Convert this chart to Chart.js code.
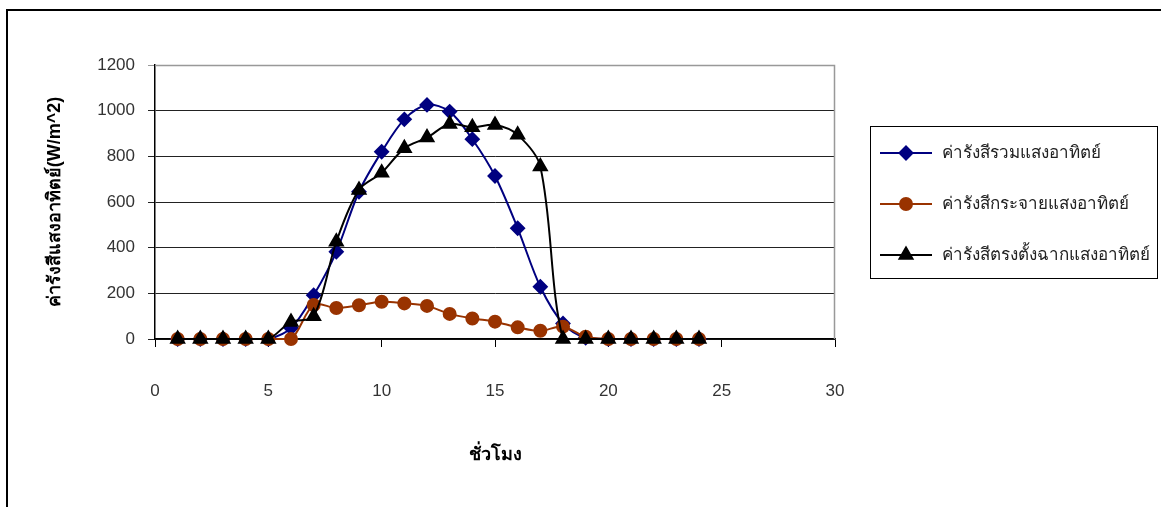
<!DOCTYPE html>
<html>
<head>
<meta charset="utf-8">
<script src="https://cdn.jsdelivr.net/npm/chart.js@4/dist/chart.umd.min.js"></script>
<style>
  html, body { margin: 0; padding: 0; background: #fff; }
  #wrap { position: relative; width: 1161px; height: 507px; }
</style>
</head>
<body>
<div id="wrap"><canvas id="chart" width="1161" height="507"></canvas></div>
<script>
// hours of the day
const hours = [1, 2, 3, 4, 5, 6, 7, 8, 9, 10, 11, 12, 13, 14, 15, 16, 17, 18, 19, 20, 21, 22, 23, 24];
// global (total) radiation W/m^2
const totalRad = [0, 0, 0, 0, 0, 48, 192, 382, 645, 820, 962, 1025, 996, 875, 714, 485, 229, 68, 5, 0, 0, 0, 0, 0];
// diffuse radiation
const diffuseRad = [0, 0, 0, 0, 0, 0, 149, 136, 148, 163, 156, 145, 110, 90, 76, 51, 36, 54, 10, 0, 0, 0, 0, 0];
// direct normal radiation
const directRad = [0, 0, 0, 0, 0, 75, 100, 426, 653, 728, 835, 882, 942, 927, 937, 894, 755, 0, 0, 0, 0, 0, 0, 0];

const seriesLabels = ['ค่ารังสีรวมแสงอาทิตย์', 'ค่ารังสีกระจายแสงอาทิตย์', 'ค่ารังสีตรงตั้งฉากแสงอาทิตย์'];
const yTitle = 'ค่ารังสีแสงอาทิตย์(W/m^2)';
const xTitle = 'ชั่วโมง';

const toPoints = (vals) => hours.map((h, i) => ({ x: h, y: vals[i] }));

Chart.defaults.font.family = "'Liberation Sans', Arial, sans-serif";
Chart.defaults.color = '#333';

// frame around the whole picture + plot border + legend box
const decor = {
  id: 'decor',
  beforeDraw(chart) {
    const { ctx } = chart;
    ctx.save();
    ctx.fillStyle = '#fff';
    ctx.fillRect(0, 0, chart.width, chart.height);
    ctx.strokeStyle = '#000';
    ctx.lineWidth = 2;
    ctx.beginPath();
    ctx.moveTo(7, chart.height + 2);
    ctx.lineTo(7, 10);
    ctx.lineTo(chart.width + 2, 10);
    ctx.stroke();
    ctx.restore();
  },
  beforeDatasetsDraw(chart) {
    const { ctx, chartArea: a } = chart;
    ctx.save();
    ctx.strokeStyle = '#999';
    ctx.lineWidth = 1.5;
    ctx.beginPath();
    ctx.moveTo(a.left, a.top + 0.5);
    ctx.lineTo(a.right - 0.5, a.top + 0.5);
    ctx.lineTo(a.right - 0.5, a.bottom);
    ctx.stroke();
    ctx.restore();
  },
  afterDraw(chart) {
    const { ctx } = chart;
    ctx.save();
    ctx.strokeStyle = '#000';
    ctx.lineWidth = 1;
    ctx.strokeRect(870.5, 126.5, 287, 152);
    const rows = [153, 204, 255];
    chart.data.datasets.forEach((ds, i) => {
      const y = rows[i];
      ctx.strokeStyle = ds.borderColor;
      ctx.lineWidth = 2;
      ctx.beginPath();
      ctx.moveTo(880, y);
      ctx.lineTo(932, y);
      ctx.stroke();
      ctx.fillStyle = ds.pointBackgroundColor;
      ctx.strokeStyle = ds.pointBorderColor;
      Chart.helpers.drawPoint(ctx, {
        pointStyle: ds.pointStyle, radius: ds.pointRadius, rotation: 0, borderWidth: 1
      }, 906, y);
      ctx.fillStyle = '#222';
      ctx.font = "17px 'Liberation Sans', Arial, sans-serif";
      ctx.textBaseline = 'middle';
      ctx.fillText(ds.label, 942, y);
    });
    ctx.restore();
  }
};

new Chart(document.getElementById('chart'), {
  type: 'line',
  data: {
    datasets: [
      {
        label: seriesLabels[0],
        data: toPoints(totalRad),
        borderColor: '#000080',
        borderWidth: 2,
        pointStyle: 'rectRot',
        pointRadius: 6.5,
        pointBackgroundColor: '#000080',
        pointBorderColor: '#000080',
        tension: 0.33,
        clip: false,
        order: 2
      },
      {
        label: seriesLabels[1],
        data: toPoints(diffuseRad),
        borderColor: '#993300',
        borderWidth: 2,
        pointStyle: 'circle',
        pointRadius: 6,
        pointBackgroundColor: '#993300',
        pointBorderColor: '#993300',
        tension: 0.33,
        clip: false,
        order: 1
      },
      {
        label: seriesLabels[2],
        data: toPoints(directRad),
        borderColor: '#000000',
        borderWidth: 2,
        pointStyle: 'triangle',
        pointRadius: 7.5,
        pointBackgroundColor: '#000000',
        pointBorderColor: '#000000',
        tension: 0.33,
        clip: false,
        order: 0
      }
    ]
  },
  options: {
    responsive: false,
    animation: false,
    layout: { padding: { left: 0, right: 326, top: 65, bottom: 0 } },
    plugins: {
      legend: { display: false },
      tooltip: { enabled: false }
    },
    scales: {
      x: {
        type: 'linear',
        min: 0,
        max: 30,
        afterFit: (s) => { s.height = 168; },
        ticks: { stepSize: 5, padding: 34, font: { size: 17 }, color: '#333' },
        grid: { drawOnChartArea: false, drawTicks: true, tickLength: 8, color: '#000' },
        border: { color: '#000', width: 1.5 },
        title: {
          display: true,
          text: xTitle,
          color: '#000',
          font: { size: 18, weight: 'bold' },
          padding: { top: 0, bottom: 41 }
        }
      },
      y: {
        min: 0,
        max: 1200,
        afterFit: (s) => { s.width = 155; },
        ticks: {
          stepSize: 200,
          padding: 13,
          font: { size: 17 },
          color: '#333',
          callback: (v) => String(v)
        },
        grid: {
          drawTicks: true,
          tickLength: 7,
          color: (c) => (c.tick && c.tick.value === 1200 ? '#999' : '#222'),
          lineWidth: 1
        },
        border: { color: '#000', width: 1.5 },
        title: {
          display: true,
          text: yTitle,
          color: '#000',
          font: { size: 18, weight: 'bold' },
          padding: { top: 44, bottom: 0 }
        }
      }
    }
  },
  plugins: [decor]
});
</script>
</body>
</html>
